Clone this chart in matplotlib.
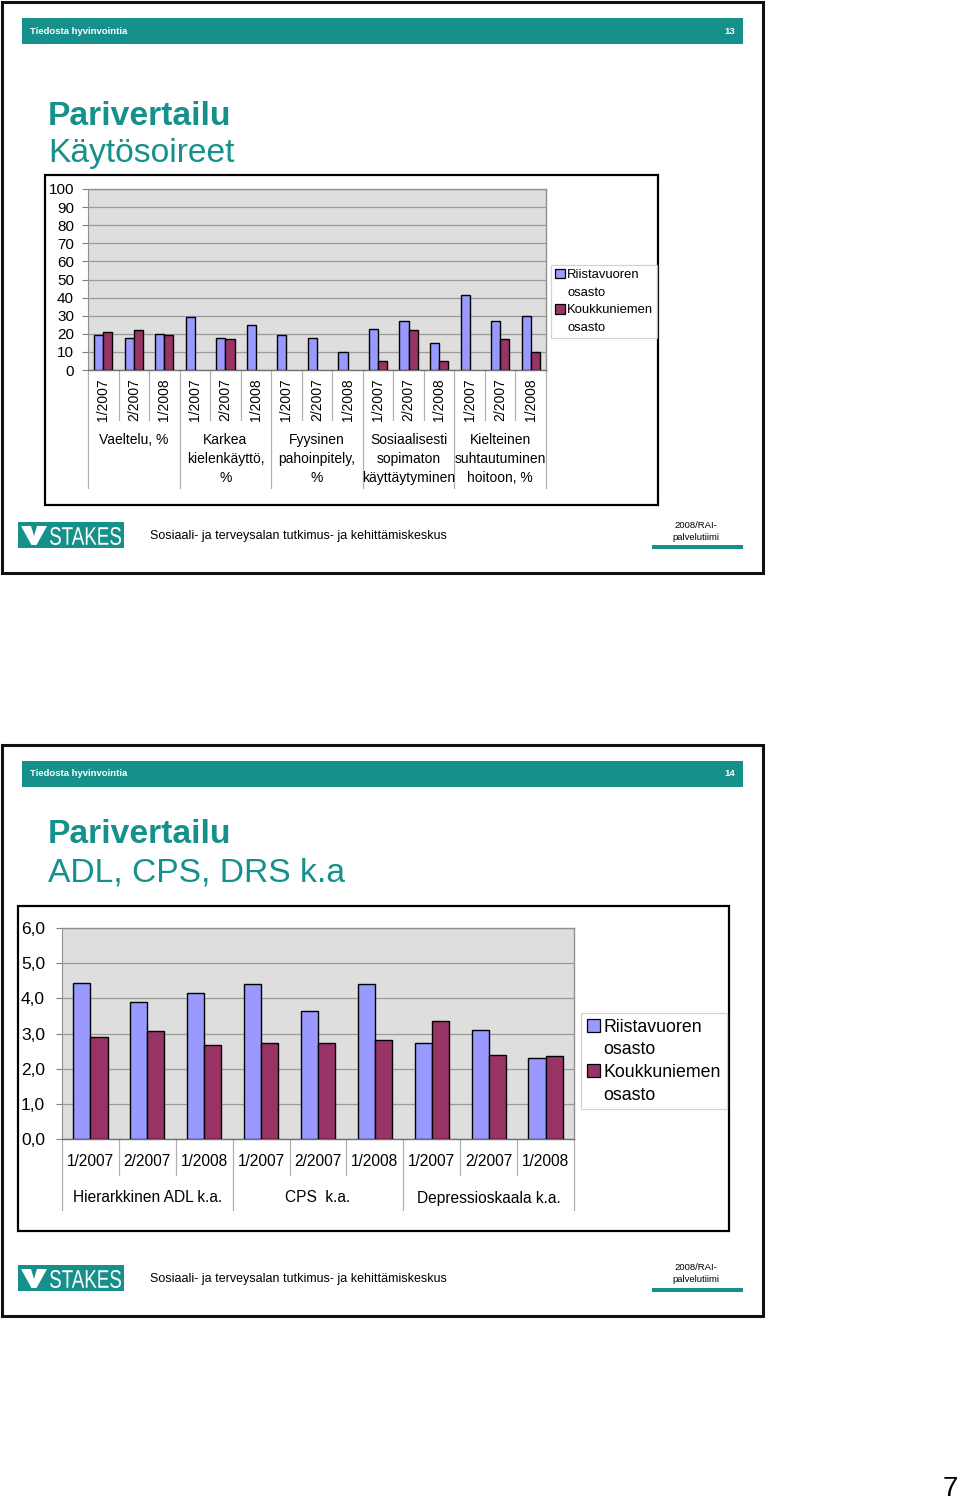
import numpy as np
import matplotlib
matplotlib.use('Agg')
import matplotlib.pyplot as plt
from matplotlib.patches import Rectangle, Polygon, PathPatch
from matplotlib.textpath import TextPath
from matplotlib.font_manager import FontProperties
from matplotlib.transforms import Affine2D

plt.rcParams['font.family'] = ['Liberation Sans', 'DejaVu Sans']

# ---------------- data ----------------
periods = ['1/2007', '2/2007', '1/2008']
top_groups = ['Vaeltelu, %', 'Karkea\nkielenkäyttö,\n%', 'Fyysinen\npahoinpitely,\n%',
              'Sosiaalisesti\nsopimaton\nkäyttäytyminen', 'Kielteinen\nsuhtautuminen\nhoitoon, %']
top_riista = [19.3, 17.6, 19.9, 29.1, 17.6, 24.9, 19.3, 17.6, 9.8, 22.6, 26.9, 14.8, 41.7, 26.9, 29.7]
top_koukku = [21.2, 21.9, 19.1, None, 16.9, None, None, None, None, 5.0, 21.9, 5.0, None, 16.9, 9.8]
top_yticks = [0, 10, 20, 30, 40, 50, 60, 70, 80, 90, 100]

bottom_groups = ['Hierarkkinen ADL k.a.', 'CPS  k.a.', 'Depressioskaala k.a.']
bottom_riista = [4.45, 3.90, 4.15, 4.41, 3.65, 4.41, 2.73, 3.10, 2.29]
bottom_koukku = [2.90, 3.06, 2.68, 2.73, 2.73, 2.82, 3.36, 2.39, 2.35]
bottom_yticks = [0.0, 1.0, 2.0, 3.0, 4.0, 5.0, 6.0]

series_names = ['Riistavuoren\nosasto', 'Koukkuniemen\nosasto']
slide_numbers = ['13', '14']

# ---------------- styles ----------------
TEAL = '#16908a'
BLUE = '#9999ff'
RED = '#993366'
PLOTBG = '#dedede'
GRID = '#9a9a9a'

W, H = 960, 1501
fig = plt.figure(figsize=(W / 100, H / 100), dpi=100)
bg = fig.add_axes([0, 0, 1, 1], zorder=0)
bg.set_xlim(0, W)
bg.set_ylim(H, 0)
bg.axis('off')


def pax(x0, y0, x1, y1):
    return fig.add_axes([x0 / W, 1 - y1 / H, (x1 - x0) / W, (y1 - y0) / H], zorder=2)


def rect(x0, y0, x1, y1, **kw):
    bg.add_patch(Rectangle((x0, y0), x1 - x0, y1 - y0, **kw))


def logo_text(x0, x1, ybase, cap):
    tp = TextPath((0, 0), 'STAKES', size=1, prop=FontProperties(family='Liberation Sans'))
    ext = tp.get_extents()
    sx = (x1 - x0) / ext.width
    sy = cap / ext.height
    path = Affine2D().translate(-ext.x0, -ext.y0).scale(sx, -sy).translate(x0, ybase).transform_path(tp)
    bg.add_patch(PathPatch(path, facecolor='white', edgecolor='none'))


def slide_frame(y0, num):
    rect(2, y0, 763, y0 + 571, facecolor='white', edgecolor='#111111', lw=2.2)
    rect(22, y0 + 16, 743, y0 + 42, facecolor=TEAL, edgecolor='none')
    bg.text(30, y0 + 29, 'Tiedosta hyvinvointia', color='white', fontsize=6.8,
            fontweight='bold', va='center', ha='left')
    bg.text(735, y0 + 29, num, color='white', fontsize=6.8, fontweight='bold',
            va='center', ha='right')
    # footer
    fy = y0 + 520
    rect(18, fy, 124, fy + 26, facecolor=TEAL, edgecolor='none')
    bg.add_patch(Polygon([(21, fy + 4), (31, fy + 4), (34, fy + 14), (37, fy + 4),
                          (47, fy + 4), (36.5, fy + 23), (31.5, fy + 23)],
                         closed=True, facecolor='white', edgecolor='none'))
    logo_text(50, 121, fy + 23, 18)
    bg.text(150, fy + 14, 'Sosiaali- ja terveysalan tutkimus- ja kehittämiskeskus',
            fontsize=9, va='center', ha='left', color='black')
    bg.text(696, fy + 3, '2008/RAI-', fontsize=6.8, va='center', ha='center')
    bg.text(696, fy + 15, 'palvelutiimi', fontsize=6.8, va='center', ha='center')
    rect(652, fy + 23, 743, fy + 27, facecolor=TEAL, edgecolor='none')


def style_axes(ax, yticks, ylim, labfmt, fs=10.5):
    ax.set_facecolor(PLOTBG)
    ax.set_ylim(*ylim)
    ax.set_yticks(yticks)
    ax.set_yticklabels([labfmt(v) for v in yticks], fontsize=fs)
    ax.set_xticks([])
    ax.yaxis.grid(True, color=GRID, lw=0.9)
    ax.set_axisbelow(True)
    for s in ['top', 'right']:
        ax.spines[s].set_color('#909090')
        ax.spines[s].set_linewidth(1.0)
    ax.spines['left'].set_color('#909090')
    ax.spines['bottom'].set_color('#707070')
    ax.spines['bottom'].set_linewidth(1.0)
    ax.tick_params(axis='y', length=4, color='#808080', width=0.8)


def separators(ax, n, axh, short, long):
    tr = ax.get_xaxis_transform()
    for i in range(n + 1):
        L = long if i % 3 == 0 else short
        ax.plot([i - 0.5, i - 0.5], [0, -L / axh], transform=tr, clip_on=False,
                color='#b0b0b0', lw=0.9)


def legend(x, y, fs, spacing, pad=0.35):
    handles, labels = [], []
    for name, col in zip(series_names, [BLUE, RED]):
        parts = name.split('\n')
        handles.append(Rectangle((0, 0), 1, 1, facecolor=col, edgecolor='black', lw=0.9))
        labels.append(parts[0])
        for p in parts[1:]:
            handles.append(Rectangle((0, 0), 1, 1, fill=False, edgecolor='none'))
            labels.append(p)
    lg = fig.legend(handles, labels, loc='upper left', bbox_to_anchor=(x / W, 1 - y / H),
                    bbox_transform=fig.transFigure, fontsize=fs, frameon=True,
                    fancybox=False, edgecolor='#c8c8c8', handlelength=0.75,
                    handleheight=0.75, handletextpad=0.2, borderpad=pad,
                    labelspacing=spacing, borderaxespad=0)
    lg.get_frame().set_linewidth(0.9)
    lg.set_zorder(5)


# ================= slide 1 =================
slide_frame(2, slide_numbers[0])
bg.text(48, 125, 'Parivertailu', color=TEAL, fontsize=24.2, fontweight='bold',
        va='baseline', ha='left')
bg.text(48, 162, 'Käytösoireet', color=TEAL, fontsize=24.2, va='baseline', ha='left')
rect(45, 175, 658, 505, facecolor='white', edgecolor='black', lw=1.6)

ax1 = pax(88, 189, 546, 370)
x1 = np.arange(len(top_riista))
ax1.bar(x1 - 0.15, top_riista, 0.3, color=BLUE, edgecolor='black', lw=1.0, zorder=3)
idx = [i for i, v in enumerate(top_koukku) if v is not None]
ax1.bar(x1[idx] + 0.15, [top_koukku[i] for i in idx], 0.3, color=RED,
        edgecolor='black', lw=1.0, zorder=3)
ax1.set_xlim(-0.5, len(top_riista) - 0.5)
style_axes(ax1, top_yticks, (0, 100), lambda v: f'{v:d}', fs=11)
ax1.tick_params(axis='y', pad=6)
separators(ax1, len(top_riista), 181, 50, 118)
for i in range(len(top_riista)):
    ax1.annotate(periods[i % 3], xy=(i, 0), xycoords=('data', 'axes fraction'),
                 xytext=(0, -8), textcoords='offset pixels', rotation=90,
                 ha='center', va='top', fontsize=10, annotation_clip=False)
for g, name in enumerate(top_groups):
    ax1.annotate(name, xy=(3 * g + 1, 0), xycoords=('data', 'axes fraction'),
                 xytext=(0, -63), textcoords='offset pixels', ha='center', va='top',
                 fontsize=10, linespacing=1.45, annotation_clip=False)
legend(551, 265, 9.4, 0.4, pad=0.3)

# ================= slide 2 =================
slide_frame(745, slide_numbers[1])
bg.text(48, 843, 'Parivertailu', color=TEAL, fontsize=24.2, fontweight='bold',
        va='baseline', ha='left')
bg.text(48, 882, 'ADL, CPS, DRS k.a', color=TEAL, fontsize=24.2, va='baseline', ha='left')
rect(18, 906, 729, 1231, facecolor='white', edgecolor='black', lw=1.6)

ax2 = pax(62, 928, 574, 1139)
x2 = np.arange(len(bottom_riista))
ax2.bar(x2 - 0.15, bottom_riista, 0.3, color=BLUE, edgecolor='black', lw=1.0, zorder=3)
ax2.bar(x2 + 0.15, bottom_koukku, 0.3, color=RED, edgecolor='black', lw=1.0, zorder=3)
ax2.set_xlim(-0.5, len(bottom_riista) - 0.5)
style_axes(ax2, bottom_yticks, (0, 6), lambda v: f'{v:.1f}'.replace('.', ','), fs=12.5)
ax2.tick_params(axis='y', pad=25.5)
for lab in ax2.get_yticklabels():
    lab.set_ha('left')
separators(ax2, len(bottom_riista), 211, 36, 71)
for i in range(len(bottom_riista)):
    ax2.annotate(periods[i % 3], xy=(i, 0), xycoords=('data', 'axes fraction'),
                 xytext=(0, -23), textcoords='offset pixels', ha='center',
                 va='center', fontsize=11.2, annotation_clip=False)
for g, name in enumerate(bottom_groups):
    ax2.annotate(name, xy=(3 * g + 1, 0), xycoords=('data', 'axes fraction'),
                 xytext=(0, -59), textcoords='offset pixels', ha='center',
                 va='center', fontsize=11.2, annotation_clip=False)
legend(581, 1013, 12.8, 0.32, pad=0.32)

# page number
bg.text(950, 1496, '7', fontsize=20, ha='center', va='baseline')

fig.savefig('out.png', dpi=100)
